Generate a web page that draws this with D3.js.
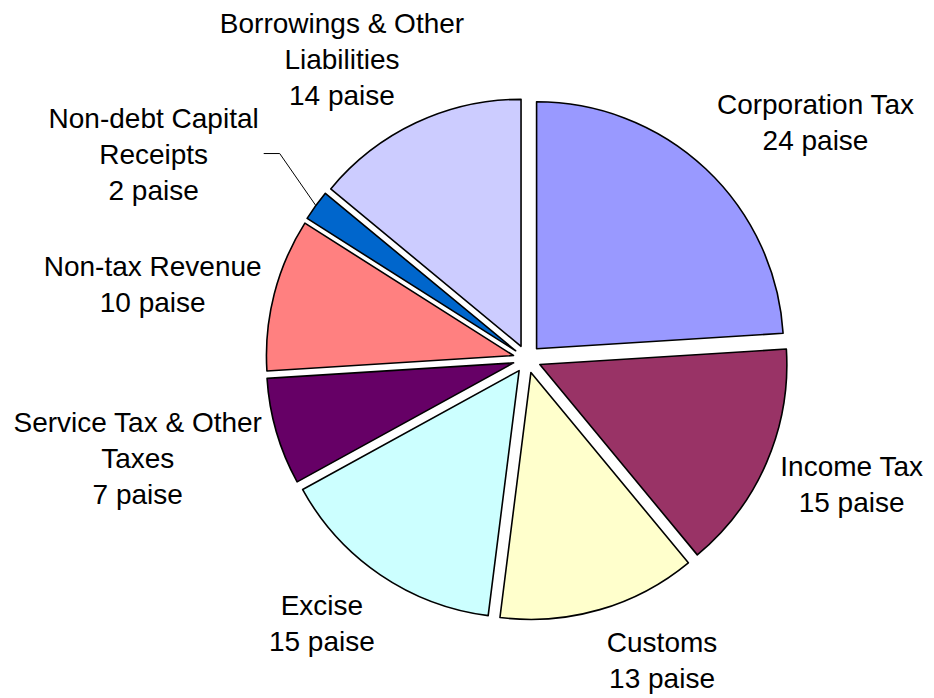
<!DOCTYPE html>
<html>
<head>
<meta charset="utf-8">
<script src="https://cdn.jsdelivr.net/npm/d3@7/dist/d3.min.js"></script>
<style>
  html, body { margin: 0; padding: 0; background: #fff; }
  svg { display: block; }
  text { font-family: "Liberation Sans", Arial, sans-serif; fill: #000; }
</style>
</head>
<body>
<svg id="chart" width="934" height="698"></svg>
<script>
// Sources of each rupee of government receipts
const categories = [
  "Corporation Tax",
  "Income Tax",
  "Customs",
  "Excise",
  "Service Tax & Other Taxes",
  "Non-tax Revenue",
  "Non-debt Capital Receipts",
  "Borrowings & Other Liabilities"
];
const values = [24, 15, 13, 15, 7, 10, 2, 14];
const colors = ["#9999FF", "#993366", "#FFFFCC", "#CCFFFF", "#660066", "#FF8080", "#0066CC", "#CCCCFF"];
const unit = "paise";

// layout
const cx = 527, cy = 359;
const radius = 247;
const explode = 14;
const labelRadius = 276;
const fontSize = 28;
const lineH = 36;
const wrapWidth = 262;
// labels moved by hand away from their automatic spot (px)
const labelShift = {
  "Corporation Tax": [7, 0],
  "Customs": [42, 0],
  "Excise": [-14, 0],
  "Service Tax & Other Taxes": [0, 6],
  "Non-tax Revenue": [2, 3],
  "Borrowings & Other Liabilities": [-10, 4],
  "Non-debt Capital Receipts": [-45, -4]
};

const svg = d3.select("#chart");
const data = categories.map((name, i) => ({ name, value: values[i], color: colors[i] }));

const pie = d3.pie().sort(null).value(d => d.value).startAngle(0).endAngle(2 * Math.PI);
const arc = d3.arc().innerRadius(0).outerRadius(radius);
const arcs = pie(data);

const g = svg.append("g").attr("transform", `translate(${cx},${cy})`);

function dirOf(d) {
  const a = (d.startAngle + d.endAngle) / 2;
  return [Math.sin(a), -Math.cos(a)];
}

// exploded slices
g.selectAll("path.slice")
  .data(arcs)
  .join("path")
  .attr("class", "slice")
  .attr("d", arc)
  .attr("transform", d => {
    const [dx, dy] = dirOf(d);
    return `translate(${dx * explode},${dy * explode})`;
  })
  .attr("fill", d => d.data.color)
  .attr("stroke", "#000")
  .attr("stroke-width", 1.6)
  .attr("stroke-linejoin", "round");

// text measurement helper
const measurer = svg.append("text").attr("font-size", fontSize).attr("visibility", "hidden");
function textWidth(s) {
  measurer.text(s);
  return measurer.node().getComputedTextLength();
}
function wrap(s) {
  const words = s.split(" ");
  const lines = [];
  let cur = "";
  words.forEach(w => {
    const test = cur ? cur + " " + w : w;
    if (cur && textWidth(test) > wrapWidth) {
      lines.push(cur);
      cur = w;
    } else {
      cur = test;
    }
  });
  if (cur) lines.push(cur);
  return lines;
}

const labels = svg.append("g");
arcs.forEach(d => {
  const lines = wrap(d.data.name).concat([`${d.data.value} ${unit}`]);
  const w = d3.max(lines, textWidth);
  const h = lines.length * lineH;
  const [dx, dy] = dirOf(d);
  const m = Math.max(Math.abs(dx), Math.abs(dy));
  const shift = labelShift[d.data.name] || [0, 0];
  // the label box sits just outside the anchor point on the label circle
  const bx = cx + dx * labelRadius + (dx / m) * w / 2 + shift[0];
  const by = cy + dy * labelRadius + (dy / m) * h / 2 + shift[1];

  const t = labels.append("text")
    .attr("font-size", fontSize)
    .attr("text-anchor", "middle");
  lines.forEach((ln, i) => {
    t.append("tspan")
      .attr("x", bx)
      .attr("y", by - (lines.length - 1) * lineH / 2 + i * lineH + 10)
      .text(ln);
  });

  if (d.data.name === "Non-debt Capital Receipts") {
    // leader line from the side of the label to the slice edge
    const ex = cx + dx * (radius + explode);
    const ey = cy + dy * (radius + explode);
    const side = dx < 0 ? 1 : -1;
    const sx = bx + side * (w / 2 + 5);
    const kx = sx + side * 16;
    labels.append("path")
      .attr("d", `M${sx},${by}L${kx},${by}L${ex},${ey}`)
      .attr("fill", "none")
      .attr("stroke", "#000")
      .attr("stroke-width", 1);
  }
});
measurer.remove();
</script>
</body>
</html>
